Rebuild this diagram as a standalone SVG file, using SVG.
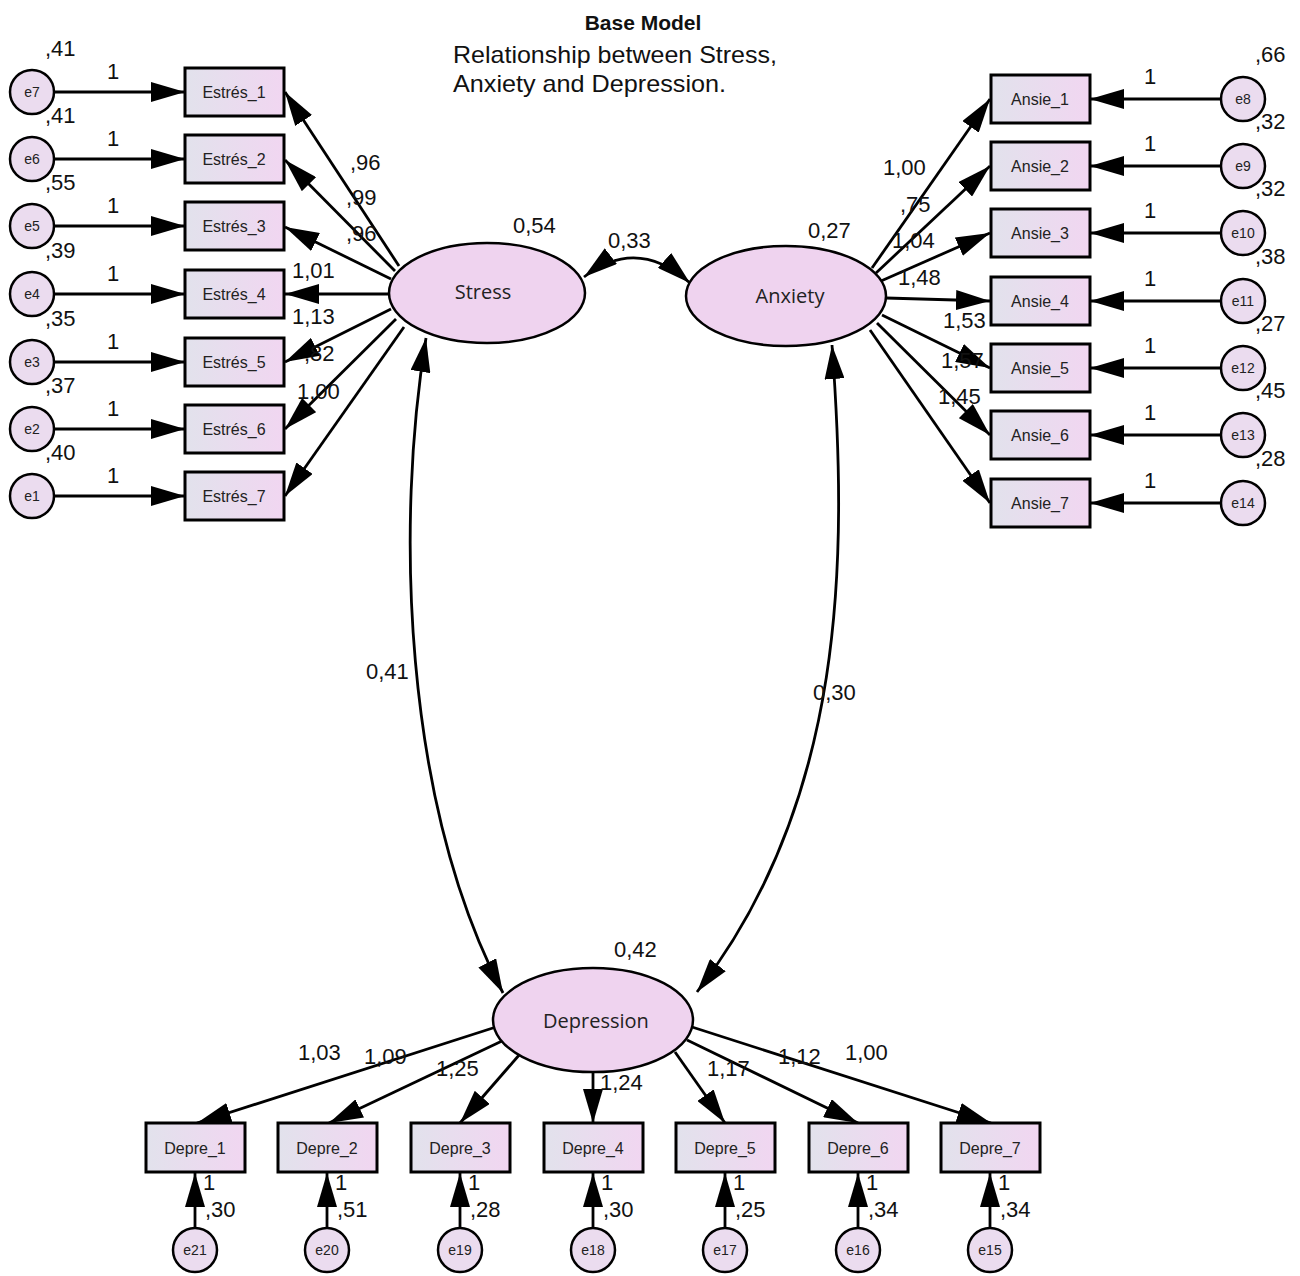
<svg xmlns="http://www.w3.org/2000/svg" width="1300" height="1276" viewBox="0 0 1300 1276">
<defs>
<linearGradient id="bx" x1="0" y1="0" x2="1" y2="0">
<stop offset="0" stop-color="#e2e2ec"/>
<stop offset="1" stop-color="#f1d6f1"/>
</linearGradient>
<marker id="ah" viewBox="0 0 34 20" refX="34" refY="10" markerWidth="34" markerHeight="20" markerUnits="userSpaceOnUse" orient="auto-start-reverse">
<path d="M0,0 L34,10 L0,20 Z" fill="#000"/>
</marker>
</defs>
<style>
.box{fill:url(#bx);stroke:#000;stroke-width:3}
.lat{fill:#efd3ef;stroke:#000;stroke-width:2.5}
.err{fill:#ebdcef;stroke:#000;stroke-width:2.5}
.bt{font-family:"Liberation Sans",Arial,sans-serif;font-size:16px;fill:#222;text-anchor:middle}
.et{font-family:"Liberation Sans",Arial,sans-serif;font-size:14px;fill:#222;text-anchor:middle}
.lt{font-family:"Open Sans","Liberation Sans",sans-serif;font-size:20px;fill:#222;text-anchor:middle}
.num{font-family:"Liberation Sans",Arial,sans-serif;font-size:22px;fill:#111}
.c line,.c path{stroke:#000;stroke-width:2.8;fill:none;marker-end:url(#ah)}
.c .cov{marker-start:url(#ah)}
</style>
<rect width="1300" height="1276" fill="#fff"/>

<g id="title">
<text x="643" y="30" font-family="'Liberation Sans',Arial,sans-serif" font-size="21" font-weight="bold" text-anchor="middle" fill="#111">Base Model</text>
<text x="453" y="63" font-family="'Liberation Sans',Arial,sans-serif" font-size="24" fill="#111" textLength="324" lengthAdjust="spacingAndGlyphs">Relationship between Stress,</text>
<text x="453" y="92" font-family="'Liberation Sans',Arial,sans-serif" font-size="24" fill="#111" textLength="273" lengthAdjust="spacingAndGlyphs">Anxiety and Depression.</text>
</g>

<g class="c" id="connectors">
<line x1="54" y1="92" x2="185" y2="92"/>
<line x1="54" y1="159" x2="185" y2="159"/>
<line x1="54" y1="226" x2="185" y2="226"/>
<line x1="54" y1="294" x2="185" y2="294"/>
<line x1="54" y1="362" x2="185" y2="362"/>
<line x1="54" y1="429" x2="185" y2="429"/>
<line x1="54" y1="496" x2="185" y2="496"/>
<line x1="399" y1="266" x2="285" y2="92"/>
<line x1="395" y1="271" x2="285" y2="160"/>
<line x1="391" y1="279" x2="285" y2="227"/>
<line x1="388" y1="294" x2="285" y2="294"/>
<line x1="391" y1="309" x2="285" y2="362"/>
<line x1="396" y1="319" x2="285" y2="429"/>
<line x1="404" y1="327" x2="285" y2="496"/>
<line x1="1221" y1="99" x2="1090" y2="99"/>
<line x1="1221" y1="166" x2="1090" y2="166"/>
<line x1="1221" y1="233" x2="1090" y2="233"/>
<line x1="1221" y1="301" x2="1090" y2="301"/>
<line x1="1221" y1="368" x2="1090" y2="368"/>
<line x1="1221" y1="435" x2="1090" y2="435"/>
<line x1="1221" y1="503" x2="1090" y2="503"/>
<line x1="872" y1="268" x2="990" y2="99"/>
<line x1="876" y1="273" x2="990" y2="166"/>
<line x1="881" y1="281" x2="990" y2="233"/>
<line x1="886" y1="298" x2="990" y2="301"/>
<line x1="882" y1="315" x2="990" y2="368"/>
<line x1="877" y1="323" x2="990" y2="435"/>
<line x1="870" y1="330" x2="990" y2="503"/>
<path class="cov" d="M584,277 Q637,236 690,283"/>
<path class="cov" d="M426,338 C396,520 402,800 503,993"/>
<path class="cov" d="M832,345 C848,560 846,800 697,992"/>
<line x1="496" y1="1027" x2="197" y2="1123"/>
<line x1="502" y1="1041" x2="329" y2="1123"/>
<line x1="520" y1="1054" x2="460" y2="1123"/>
<line x1="593" y1="1072" x2="593" y2="1123"/>
<line x1="675" y1="1052" x2="725" y2="1123"/>
<line x1="687" y1="1040" x2="858" y2="1123"/>
<line x1="692" y1="1027" x2="991" y2="1123"/>
<line x1="195" y1="1228" x2="195" y2="1173"/>
<line x1="327" y1="1228" x2="327" y2="1173"/>
<line x1="460" y1="1228" x2="460" y2="1173"/>
<line x1="593" y1="1228" x2="593" y2="1173"/>
<line x1="725" y1="1228" x2="725" y2="1173"/>
<line x1="858" y1="1228" x2="858" y2="1173"/>
<line x1="990" y1="1228" x2="990" y2="1173"/>
</g>

<g id="Stress"><ellipse class="lat" cx="487" cy="293" rx="98" ry="50"/><text class="lt" x="483" y="299">Stress</text></g>
<g id="Anxiety"><ellipse class="lat" cx="786" cy="296" rx="100" ry="50"/><text class="lt" x="790" y="303">Anxiety</text></g>
<g id="Depression"><ellipse class="lat" cx="593" cy="1020" rx="100" ry="52"/><text class="lt" x="596" y="1028">Depression</text></g>

<g id="Estres_1"><rect class="box" x="185" y="68" width="99" height="48"/><text class="bt" x="234" y="98">Estrés_1</text></g>
<g id="Estres_2"><rect class="box" x="185" y="135" width="99" height="48"/><text class="bt" x="234" y="165">Estrés_2</text></g>
<g id="Estres_3"><rect class="box" x="185" y="202" width="99" height="48"/><text class="bt" x="234" y="232">Estrés_3</text></g>
<g id="Estres_4"><rect class="box" x="185" y="270" width="99" height="48"/><text class="bt" x="234" y="300">Estrés_4</text></g>
<g id="Estres_5"><rect class="box" x="185" y="338" width="99" height="48"/><text class="bt" x="234" y="368">Estrés_5</text></g>
<g id="Estres_6"><rect class="box" x="185" y="405" width="99" height="48"/><text class="bt" x="234" y="435">Estrés_6</text></g>
<g id="Estres_7"><rect class="box" x="185" y="472" width="99" height="48"/><text class="bt" x="234" y="502">Estrés_7</text></g>

<g id="e7"><circle class="err" cx="32" cy="92" r="22"/><text class="et" x="32" y="97">e7</text></g>
<g id="e6"><circle class="err" cx="32" cy="159" r="22"/><text class="et" x="32" y="164">e6</text></g>
<g id="e5"><circle class="err" cx="32" cy="226" r="22"/><text class="et" x="32" y="231">e5</text></g>
<g id="e4"><circle class="err" cx="32" cy="294" r="22"/><text class="et" x="32" y="299">e4</text></g>
<g id="e3"><circle class="err" cx="32" cy="362" r="22"/><text class="et" x="32" y="367">e3</text></g>
<g id="e2"><circle class="err" cx="32" cy="429" r="22"/><text class="et" x="32" y="434">e2</text></g>
<g id="e1"><circle class="err" cx="32" cy="496" r="22"/><text class="et" x="32" y="501">e1</text></g>

<g id="Ansie_1"><rect class="box" x="991" y="75" width="99" height="48"/><text class="bt" x="1040" y="105">Ansie_1</text></g>
<g id="Ansie_2"><rect class="box" x="991" y="142" width="99" height="48"/><text class="bt" x="1040" y="172">Ansie_2</text></g>
<g id="Ansie_3"><rect class="box" x="991" y="209" width="99" height="48"/><text class="bt" x="1040" y="239">Ansie_3</text></g>
<g id="Ansie_4"><rect class="box" x="991" y="277" width="99" height="48"/><text class="bt" x="1040" y="307">Ansie_4</text></g>
<g id="Ansie_5"><rect class="box" x="991" y="344" width="99" height="48"/><text class="bt" x="1040" y="374">Ansie_5</text></g>
<g id="Ansie_6"><rect class="box" x="991" y="411" width="99" height="48"/><text class="bt" x="1040" y="441">Ansie_6</text></g>
<g id="Ansie_7"><rect class="box" x="991" y="479" width="99" height="48"/><text class="bt" x="1040" y="509">Ansie_7</text></g>

<g id="e8"><circle class="err" cx="1243" cy="99" r="22"/><text class="et" x="1243" y="104">e8</text></g>
<g id="e9"><circle class="err" cx="1243" cy="166" r="22"/><text class="et" x="1243" y="171">e9</text></g>
<g id="e10"><circle class="err" cx="1243" cy="233" r="22"/><text class="et" x="1243" y="238">e10</text></g>
<g id="e11"><circle class="err" cx="1243" cy="301" r="22"/><text class="et" x="1243" y="306">e11</text></g>
<g id="e12"><circle class="err" cx="1243" cy="368" r="22"/><text class="et" x="1243" y="373">e12</text></g>
<g id="e13"><circle class="err" cx="1243" cy="435" r="22"/><text class="et" x="1243" y="440">e13</text></g>
<g id="e14"><circle class="err" cx="1243" cy="503" r="22"/><text class="et" x="1243" y="508">e14</text></g>

<g id="Depre_1"><rect class="box" x="146" y="1123" width="99" height="49"/><text class="bt" x="195" y="1154">Depre_1</text></g>
<g id="Depre_2"><rect class="box" x="278" y="1123" width="99" height="49"/><text class="bt" x="327" y="1154">Depre_2</text></g>
<g id="Depre_3"><rect class="box" x="411" y="1123" width="99" height="49"/><text class="bt" x="460" y="1154">Depre_3</text></g>
<g id="Depre_4"><rect class="box" x="544" y="1123" width="99" height="49"/><text class="bt" x="593" y="1154">Depre_4</text></g>
<g id="Depre_5"><rect class="box" x="676" y="1123" width="99" height="49"/><text class="bt" x="725" y="1154">Depre_5</text></g>
<g id="Depre_6"><rect class="box" x="809" y="1123" width="99" height="49"/><text class="bt" x="858" y="1154">Depre_6</text></g>
<g id="Depre_7"><rect class="box" x="941" y="1123" width="99" height="49"/><text class="bt" x="990" y="1154">Depre_7</text></g>

<g id="e21"><circle class="err" cx="195" cy="1250" r="22"/><text class="et" x="195" y="1255">e21</text></g>
<g id="e20"><circle class="err" cx="327" cy="1250" r="22"/><text class="et" x="327" y="1255">e20</text></g>
<g id="e19"><circle class="err" cx="460" cy="1250" r="22"/><text class="et" x="460" y="1255">e19</text></g>
<g id="e18"><circle class="err" cx="593" cy="1250" r="22"/><text class="et" x="593" y="1255">e18</text></g>
<g id="e17"><circle class="err" cx="725" cy="1250" r="22"/><text class="et" x="725" y="1255">e17</text></g>
<g id="e16"><circle class="err" cx="858" cy="1250" r="22"/><text class="et" x="858" y="1255">e16</text></g>
<g id="e15"><circle class="err" cx="990" cy="1250" r="22"/><text class="et" x="990" y="1255">e15</text></g>

<g id="labels" class="num">
<text x="45" y="56">,41</text><text x="45" y="123">,41</text><text x="45" y="190">,55</text><text x="45" y="258">,39</text><text x="45" y="326">,35</text><text x="45" y="393">,37</text><text x="45" y="460">,40</text>
<text x="107" y="79">1</text><text x="107" y="146">1</text><text x="107" y="213">1</text><text x="107" y="281">1</text><text x="107" y="349">1</text><text x="107" y="416">1</text><text x="107" y="483">1</text>
<text x="350" y="170">,96</text><text x="346" y="205">,99</text><text x="346" y="241">,96</text><text x="292" y="278">1,01</text><text x="292" y="324">1,13</text><text x="304" y="361">,82</text><text x="297" y="399">1,00</text>
<text x="1255" y="62">,66</text><text x="1255" y="129">,32</text><text x="1255" y="196">,32</text><text x="1255" y="264">,38</text><text x="1255" y="331">,27</text><text x="1255" y="398">,45</text><text x="1255" y="466">,28</text>
<text x="1144" y="84">1</text><text x="1144" y="151">1</text><text x="1144" y="218">1</text><text x="1144" y="286">1</text><text x="1144" y="353">1</text><text x="1144" y="420">1</text><text x="1144" y="488">1</text>
<text x="883" y="175">1,00</text><text x="900" y="212">,75</text><text x="892" y="248">1,04</text><text x="898" y="285">1,48</text><text x="943" y="328">1,53</text><text x="941" y="368">1,57</text><text x="938" y="404">1,45</text>
<text x="513" y="233">0,54</text><text x="608" y="248">0,33</text><text x="808" y="238">0,27</text>
<text x="366" y="679">0,41</text><text x="813" y="700">0,30</text><text x="614" y="957">0,42</text>
<text x="298" y="1060">1,03</text><text x="364" y="1064">1,09</text><text x="436" y="1076">1,25</text><text x="600" y="1090">1,24</text><text x="707" y="1076">1,17</text><text x="778" y="1064">1,12</text><text x="845" y="1060">1,00</text>
<text x="203" y="1190">1</text><text x="205" y="1217">,30</text>
<text x="335" y="1190">1</text><text x="337" y="1217">,51</text>
<text x="468" y="1190">1</text><text x="470" y="1217">,28</text>
<text x="601" y="1190">1</text><text x="603" y="1217">,30</text>
<text x="733" y="1190">1</text><text x="735" y="1217">,25</text>
<text x="866" y="1190">1</text><text x="868" y="1217">,34</text>
<text x="998" y="1190">1</text><text x="1000" y="1217">,34</text>
</g>
</svg>
